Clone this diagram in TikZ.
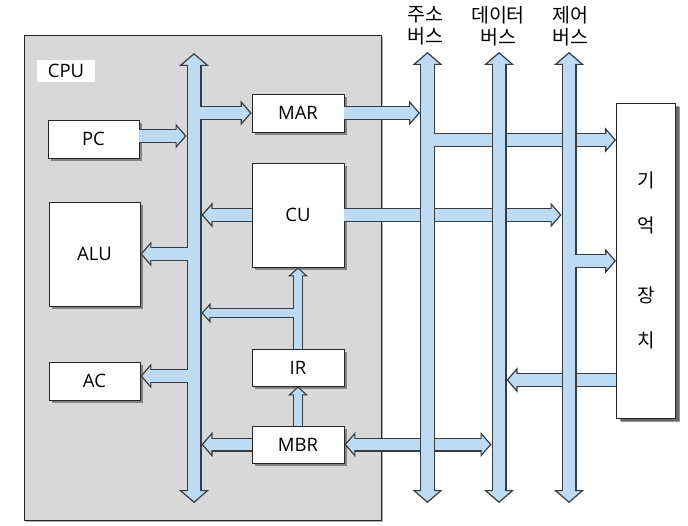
\documentclass[tikz,border=0pt]{standalone}
\usepackage{fontspec}
\setmainfont{Open Sans}
\newfontfamily\krfont{Noto Sans CJK KR}
\usetikzlibrary{arrows.meta, shadows}

\definecolor{busblue}{RGB}{189,219,242}
\definecolor{busline}{RGB}{55,60,66}
\definecolor{cpugray}{RGB}{216,216,216}

\begin{document}
\begin{tikzpicture}[
  x=1pt, y=-1pt,
  font=\fontsize{18.5}{22}\selectfont,
  bushead/.tip={Triangle[length=13pt, width=30pt, line width=1.2pt, fill=busblue]},
  flowhead/.tip={Triangle[length=11pt, width=25pt, line width=1.2pt, fill=busblue]},
  smallhead/.tip={Triangle[length=9pt, width=20pt, line width=1.1pt, fill=busblue]},
  unit/.style={
    rectangle, draw=black!85, fill=white,
    line width=0.9pt, inner sep=0pt,
    minimum width=92pt, minimum height=38pt,
    drop shadow={shadow xshift=3pt, shadow yshift=-3pt, fill=black!70, opacity=0.6}
  },
  buslabel/.style={
    font=\krfont\fontsize{19.5}{22}\selectfont,
    align=center, inner sep=0pt
  },
  busarrow/.style={
    draw=busline, line width=15pt, bushead-bushead,
    postaction={draw=busblue, line width=12.4pt, arrows=-,
      shorten <=8pt, shorten >=8pt}
  },
  flow/.style={
    draw=busline, line width=14pt, -flowhead,
    postaction={draw=busblue, line width=11.4pt, arrows=-, shorten >=7pt}
  },
  flowboth/.style={
    draw=busline, line width=14pt, flowhead-flowhead,
    postaction={draw=busblue, line width=11.4pt, arrows=-,
      shorten <=7pt, shorten >=7pt}
  },
  feed/.style={
    draw=busline, line width=10pt, -smallhead,
    postaction={draw=busblue, line width=7.6pt, arrows=-, shorten >=6pt}
  }
]
\useasboundingbox (0,0) rectangle (688,526);

%% CPU
\node[draw=black!85, fill=cpugray, line width=0.9pt,
      minimum width=357pt, minimum height=485pt,
      drop shadow={shadow xshift=2pt, shadow yshift=-2pt, fill=black!50, opacity=0.6}]
  (cpu) at (202.5,277.5) {};
\node[fill=white, minimum width=58pt, minimum height=22pt, inner sep=0pt]
  (cpulabel) at (66,71) {CPU};

%% registers and units
\node[unit, minimum width=91pt] (PC)  at (93.5,139) {PC};
\node[unit, minimum width=91pt, minimum height=104pt] (ALU) at (94.5,254) {ALU};
\node[unit, minimum width=91pt] (AC)  at (94.5,381) {AC};
\node[unit] (MAR) at (298,113) {MAR};
\node[unit, minimum height=104pt] (CU) at (298,215) {CU};
\node[unit, minimum height=37pt] (IR)  at (298,367.5) {IR};
\node[unit, minimum height=37pt] (MBR) at (298,444.5) {MBR};

%% memory
\node[unit, minimum width=59pt, minimum height=315pt,
      font=\krfont\fontsize{19}{45}\selectfont, align=center,
      drop shadow={shadow xshift=4pt, shadow yshift=-4pt, fill=black!70, opacity=0.6}]
  (mem) at (646,260.5) {기\\억\\[25pt]장\\치};

%% bus labels
\node[buslabel] (ablabel) at (425,26) {주소\\버스};
\node[buslabel] (dblabel) at (498,26) {데이터\\버스};
\node[buslabel] (cblabel) at (570,26) {제어\\버스};

%% bus ends and edges
\coordinate (ibtop) at (194,53);   \coordinate (ibbot) at (194,503);
\coordinate (abtop) at (427.5,52); \coordinate (abbot) at (427.5,503);
\coordinate (dbtop) at (499,52);   \coordinate (dbbot) at (499,503);
\coordinate (cbtop) at (569,52);   \coordinate (cbbot) at (569,503);
\coordinate (ibL) at (186.5,0); \coordinate (ibLi) at (187.8,0);
\coordinate (ibR) at (201.5,0); \coordinate (ibRi) at (200.2,0);
\coordinate (abL) at (420,0);   \coordinate (abRi) at (433.7,0);
\coordinate (dbL) at (491.5,0); \coordinate (dbR) at (506.5,0);
\coordinate (cbL) at (561.5,0); \coordinate (cbRi) at (575.2,0);

\coordinate (pcout) at ([yshift=3pt]PC.east);
\coordinate (acin)  at ([yshift=5pt]AC.east);
\coordinate (irfork) at (294.2,313);
\coordinate (memin1) at (mem.west |- 0,140);
\coordinate (memin2) at (mem.west |- 0,261);
\coordinate (memout) at (mem.west |- 0,380);

%% --- arrows crossing the system buses ---
\draw[flow]     (CU.east)  -- (CU.east -| cbL);
\draw[flowboth] (MBR.east) -- (MBR.east -| dbL);
\draw[flow]     (memout)   -- (memout -| dbR);

%% --- internal bus ---
\draw[busarrow] (ibtop) -- (ibbot);
\draw[flow] (ibRi |- MAR.west) -- (MAR.west);
\draw[flow] (ibLi |- ALU.east) -- (ALU.east);
\draw[flow] (ibLi |- acin) -- (acin);
\draw[flow] (pcout) -- (pcout -| ibL);
\draw[flow] (CU.west) -- (CU.west -| ibR);
\draw[flow] (MBR.west) -- (MBR.west -| ibR);

\draw[feed] (IR.north) -- (CU.south);
\draw[feed] (irfork) -- (irfork -| ibR);
\draw[feed] (MBR.north) -- (IR.south);

%% --- system buses ---
\draw[flow] (MAR.east) -- (MAR.east -| abL);
\draw[busarrow] (abtop) -- (abbot);
\draw[flow] (abRi |- memin1) -- (memin1);
\draw[busarrow] (dbtop) -- (dbbot);
\draw[busarrow] (cbtop) -- (cbbot);
\draw[flow] (cbRi |- memin2) -- (memin2);

\end{tikzpicture}
\end{document}
